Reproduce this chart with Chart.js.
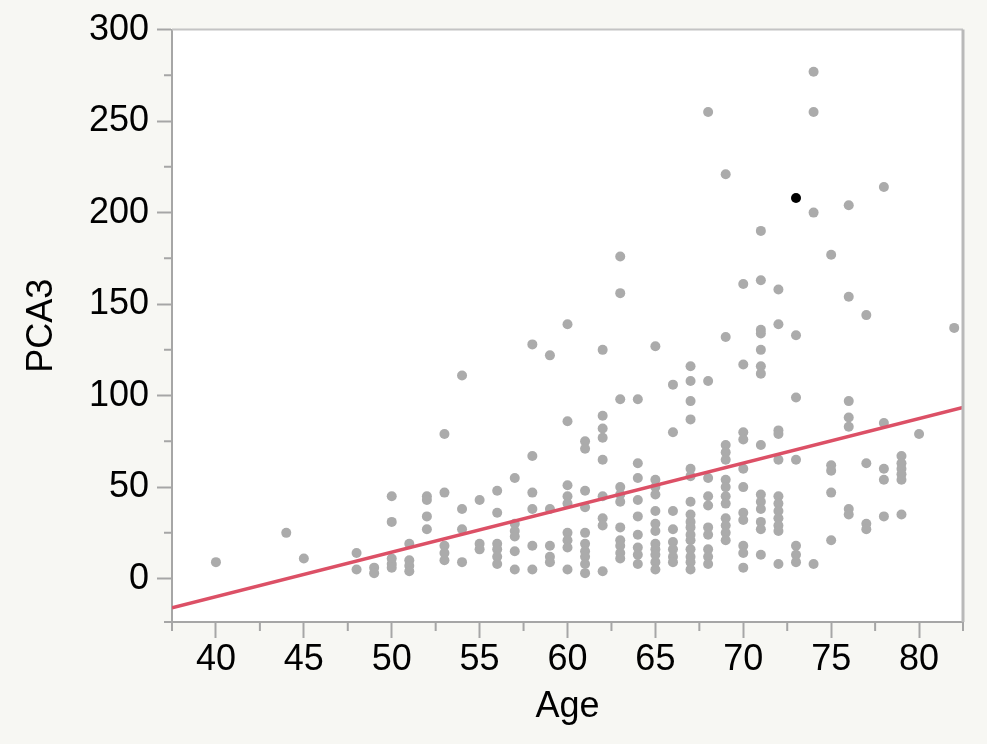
<!DOCTYPE html>
<html>
<head>
<meta charset="utf-8">
<script src="https://cdn.jsdelivr.net/npm/chart.js@4.4.0/dist/chart.umd.min.js"></script>
<style>
  html, body { margin: 0; padding: 0; background: #f7f7f3; }
  #wrap { width: 987px; height: 744px; }
</style>
</head>
<body>
<div id="wrap"><canvas id="pcaChart"></canvas></div>
<script>
// PCA3 score against age, one list of scores per age
const ages = [40, 44, 45, 48, 49, 50, 51, 52, 53, 54, 55, 56, 57, 58, 59, 60, 61, 62, 63, 64,
              65, 66, 67, 68, 69, 70, 71, 72, 73, 74, 75, 76, 77, 78, 79, 80, 82];
const pca3ByAge = [
  [9],
  [25],
  [11],
  [14, 5],
  [6, 3],
  [45, 31, 11, 8, 6],
  [19, 10, 7, 4],
  [45, 43, 34, 27],
  [79, 47, 18, 14, 10],
  [111, 38, 27, 9],
  [43, 19, 16],
  [48, 36, 19, 16, 12, 8],
  [55, 30, 26, 23, 15, 5],
  [128, 67, 47, 38, 18, 5],
  [122, 38, 18, 12, 9],
  [139, 86, 51, 45, 41, 25, 21, 17, 5],
  [75, 71, 48, 39, 25, 19, 15, 12, 8, 3],
  [125, 89, 82, 77, 65, 45, 33, 29, 4],
  [176, 156, 98, 50, 46, 42, 28, 21, 18, 14, 11],
  [98, 63, 55, 43, 34, 24, 17, 13, 8],
  [127, 54, 50, 46, 37, 30, 26, 19, 16, 13, 9, 5],
  [106, 80, 37, 27, 20, 16, 12, 9],
  [116, 108, 97, 87, 60, 56, 42, 35, 31, 28, 24, 21, 16, 12, 9, 5],
  [255, 108, 55, 45, 40, 28, 24, 16, 12, 8],
  [221, 132, 73, 69, 65, 54, 50, 45, 41, 33, 29, 25, 21],
  [161, 117, 80, 76, 60, 50, 36, 32, 18, 14, 6],
  [190, 163, 136, 134, 125, 116, 112, 73, 46, 42, 38, 31, 27, 13],
  [158, 139, 81, 79, 65, 45, 41, 37, 33, 29, 26, 8],
  [133, 99, 65, 18, 13, 9],
  [277, 255, 200, 8],
  [177, 62, 59, 47, 21],
  [204, 154, 97, 88, 83, 38, 35],
  [144, 63, 30, 27],
  [214, 85, 60, 54, 34],
  [67, 63, 60, 57, 54, 35],
  [79],
  [137]
];

// selected row
const selectedAge = [73];
const selectedPCA3 = [208];

// linear fit, ends of the x range
const fitAge = [37.5, 82.5];
const fitPCA3 = [-15.9, 93.6];

const xTicks = [40, 45, 50, 55, 60, 65, 70, 75, 80];
const yTicks = [0, 50, 100, 150, 200, 250, 300];

const axisGrey = '#a6a6a6';
Chart.defaults.font.family = '"Liberation Sans", Arial, Helvetica, sans-serif';
Chart.defaults.color = '#000';

const points = [];
ages.forEach((a, i) => pca3ByAge[i].forEach(v => points.push({ x: a, y: v })));

// backgrounds, outer frame and the short minor ticks
const frame = {
  id: 'frame',
  beforeDraw(chart) {
    const { ctx, chartArea: a } = chart;
    ctx.save();
    ctx.fillStyle = '#f7f7f3';
    ctx.fillRect(0, 0, chart.width, chart.height);
    ctx.fillStyle = '#fff';
    ctx.fillRect(a.left, a.top, a.right - a.left, a.bottom - a.top);
    ctx.restore();
  },
  afterDraw(chart) {
    const { ctx, chartArea: a, scales } = chart;
    ctx.save();
    ctx.strokeStyle = '#c4c4c4';
    ctx.lineWidth = 2;
    ctx.beginPath();
    ctx.moveTo(a.left, a.top);
    ctx.lineTo(a.right, a.top);
    ctx.stroke();
    ctx.strokeStyle = '#b9b9b9';
    ctx.lineWidth = 3;
    ctx.beginPath();
    ctx.moveTo(a.right, a.top);
    ctx.lineTo(a.right, a.bottom);
    ctx.stroke();

    ctx.strokeStyle = axisGrey;
    ctx.lineWidth = 2;
    ctx.beginPath();
    scales.x.ticks.forEach(t => {
      if (xTicks.includes(t.value)) return;
      const px = scales.x.getPixelForValue(t.value);
      ctx.moveTo(px, a.bottom);
      ctx.lineTo(px, a.bottom + 9);
    });
    scales.y.ticks.forEach(t => {
      if (yTicks.includes(t.value)) return;
      const py = scales.y.getPixelForValue(t.value);
      ctx.moveTo(a.left - 8, py);
      ctx.lineTo(a.left, py);
    });
    ctx.stroke();
    ctx.restore();
  }
};

new Chart(document.getElementById('pcaChart'), {
  type: 'scatter',
  data: {
    datasets: [
      {
        type: 'line',
        data: fitAge.map((a, i) => ({ x: a, y: fitPCA3[i] })),
        borderColor: '#dc5066',
        borderWidth: 3.5,
        pointRadius: 0,
        fill: false,
        order: 0
      },
      {
        data: selectedAge.map((a, i) => ({ x: a, y: selectedPCA3[i] })),
        backgroundColor: '#000',
        borderWidth: 0,
        pointRadius: 5,
        order: 1
      },
      {
        data: points,
        backgroundColor: '#ababab',
        borderWidth: 0,
        pointRadius: 5,
        order: 2
      }
    ]
  },
  options: {
    responsive: true,
    maintainAspectRatio: false,
    animation: false,
    events: [],
    layout: { padding: { top: 29, right: 24, left: 0, bottom: 0 } },
    plugins: { legend: { display: false }, tooltip: { enabled: false } },
    scales: {
      x: {
        type: 'linear',
        min: 37.5,
        max: 82.5,
        afterFit(s) { s.height = 122; },
        border: { color: axisGrey, width: 2 },
        grid: {
          drawOnChartArea: false,
          tickLength: 16,
          tickWidth: 2,
          tickColor: c => xTicks.includes(c.tick.value) ? axisGrey : 'rgba(0,0,0,0)'
        },
        ticks: {
          stepSize: 2.5,
          autoSkip: false,
          maxRotation: 0,
          padding: 0,
          font: { size: 36 },
          callback: v => xTicks.includes(v) ? String(v) : ''
        },
        title: {
          display: true,
          text: 'Age',
          font: { size: 36 },
          padding: { top: 0, bottom: 15 }
        }
      },
      y: {
        type: 'linear',
        min: -23.7,
        max: 300,
        afterFit(s) { s.width = 172; },
        border: { color: axisGrey, width: 2 },
        grid: {
          drawOnChartArea: false,
          tickLength: 15,
          tickWidth: 2,
          tickColor: c => yTicks.includes(c.tick.value) ? axisGrey : 'rgba(0,0,0,0)'
        },
        ticks: {
          stepSize: 25,
          autoSkip: false,
          padding: 8,
          font: { size: 36 },
          callback: v => yTicks.includes(v) ? String(v) : ''
        },
        title: {
          display: true,
          text: 'PCA3',
          font: { size: 36 },
          padding: { top: 20, bottom: 0 }
        }
      }
    }
  },
  plugins: [frame]
});
</script>
</body>
</html>
